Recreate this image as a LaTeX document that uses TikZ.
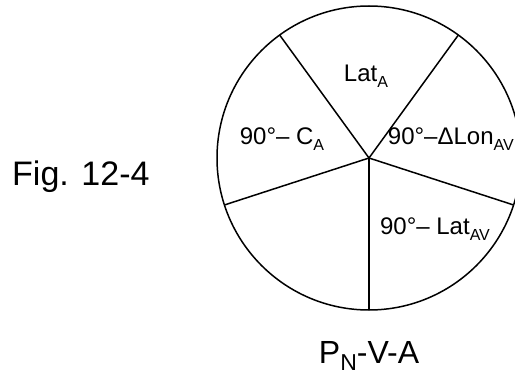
\documentclass[tikz,border=0pt]{standalone}
\usepackage{fontspec}
\setmainfont{Liberation Sans}
\newcommand\subtx[1]{\raisebox{-0.45ex}{\fontsize{16}{18}\selectfont #1}}
\newcommand\subtxb[1]{\raisebox{-0.45ex}{\fontsize{23}{26}\selectfont #1}}
\begin{document}
\begin{tikzpicture}[x=1pt,y=-1pt,
  spoke/.style={line width=1.5pt},
  lbl/.style={inner sep=0pt,font=\fontsize{24}{27}\selectfont}]
\useasboundingbox (0,0) rectangle (515,380);
\clip (0,0) rectangle (515,380);
\coordinate (c) at (369,158);
\draw[spoke] (c) circle[radius=152];
\foreach \a [count=\i] in {126,54,-18,-90,198}
  \draw[spoke] (c) -- ++({152*cos(\a)},{-152*sin(\a)}) coordinate (e\i);
\node[lbl] (latA) at (366,76) {Lat\subtx{A}};
\node[lbl] (ca) at (282,139) {90°– C\subtx{A}};
\node[lbl,anchor=east] (dlon) at (514,139) {90°–ΔLon\subtx{AV}};
\node[lbl] (latav) at (435,229) {90°– Lat\subtx{AV}};
\node[inner sep=0pt,font=\fontsize{32}{36}\selectfont] (pva) at (369,356) {P\subtxb{N}-V-A};
\node[inner sep=0pt,font=\fontsize{34}{40}\selectfont,anchor=base west] (fig) at (12,185) {Fig. 12-4};
\end{tikzpicture}
\end{document}
